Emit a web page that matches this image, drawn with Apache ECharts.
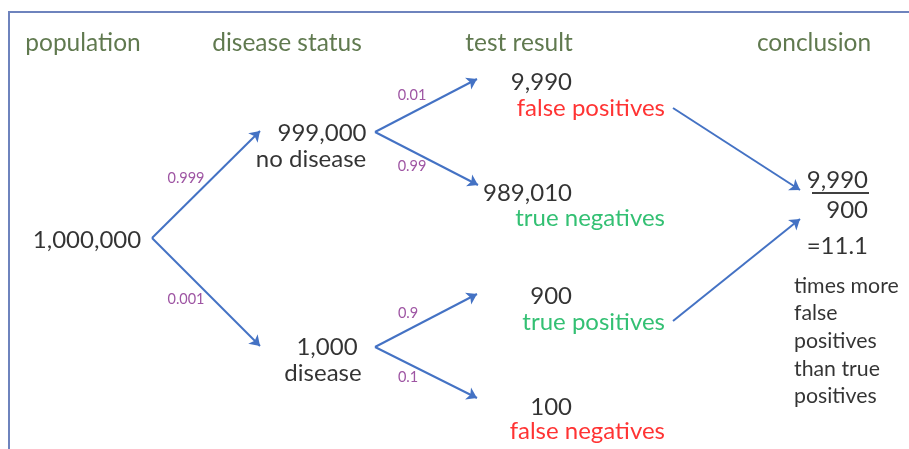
<!DOCTYPE html>
<html>
<head>
<meta charset="utf-8">
<title>Disease test tree</title>
<script src="https://cdn.jsdelivr.net/npm/echarts@6/dist/echarts.min.js"></script>
<style>
  html, body { margin: 0; padding: 0; background: #fff; }
  #chart { width: 909px; height: 449px; }
</style>
</head>
<body>
<div id="chart"></div>
<script>
// ---- data ----
const stageTitles    = ['population', 'disease status', 'test result', 'conclusion'];
const nodeCounts     = ['1,000,000', '999,000', '1,000', '9,990', '989,010', '900', '100'];
const nodeNames      = ['', 'no disease', 'disease', 'false positives', 'true negatives', 'true positives', 'false negatives'];
const nodeKinds      = ['none', 'plain', 'plain', 'bad', 'good', 'good', 'bad'];
const branchProbs    = ['0.999', '0.001', '0.01', '0.99', '0.9', '0.1'];
const ratioParts     = ['9,990', '900', '=11.1'];
const conclusionText = ['times more', 'false', 'positives', 'than true', 'positives'];

// ---- layout (pixel frame of the diagram, y grows downwards) ----
const titlePos = [[83, 43], [287, 43], [519, 43], [814, 43]];
const countPos = [[87, 240, 'center'], [322, 133, 'center'], [327, 347, 'center'],
                  [572, 82, 'right'], [572, 193, 'right'], [572, 296, 'right'], [572, 407, 'right']];
const namePos  = [null, [311, 159, 'center'], [323, 373, 'center'],
                  [665, 108, 'right'], [665, 218, 'right'], [665, 322, 'right'], [665, 431, 'right']];
const branches = [ // [from, to] in px
  [[152, 238], [260, 131]], [[152, 238], [260, 346]],
  [[375, 132], [477, 79]],  [[375, 132], [478, 185]],
  [[375, 347], [477, 294]], [[375, 347], [477, 398]]
];
const probPos  = [[186, 178], [186, 299], [412, 95], [412, 166], [408, 313], [408, 377]];
const toRatio  = [[[673, 108], [800, 190]], [[673, 321], [800, 219]]];
const ratioPos = [[868, 180], [868, 210], [868, 246]];
const fracBar  = [[812, 193], [869, 193]];
const textX = 794, textY0 = 286, textStep = 27.6;

const FONT = 'Lato';
const kindColor = { plain: '#000000', good: '#00b050', bad: '#ff0000' };

function textPoint(pos, text, style) {
  return {
    value: [pos[0], pos[1]],
    label: Object.assign({
      show: true, position: 'inside', formatter: text,
      align: pos[2] || 'center', verticalAlign: 'middle',
      fontFamily: FONT, textBorderWidth: 0, textShadowBlur: 0
    }, style)
  };
}

const texts = [];
stageTitles.forEach((t, i) => texts.push(textPoint(titlePos[i], t, { color: '#385723', fontSize: 24.5 })));
nodeCounts.forEach((c, i) => texts.push(textPoint(countPos[i], c, { color: '#000', fontSize: 24 })));
nodeNames.forEach((n, i) => {
  if (!n) return;
  texts.push(textPoint(namePos[i], n, { color: kindColor[nodeKinds[i]], fontSize: 24 }));
});
branchProbs.forEach((p, i) => texts.push(textPoint(probPos[i], p, { color: '#862a8c', fontSize: 14.5 })));
ratioParts.forEach((r, i) => texts.push(textPoint([ratioPos[i][0], ratioPos[i][1], 'right'], r, { color: '#000', fontSize: 24 })));
conclusionText.forEach((t, i) => texts.push(textPoint([textX, textY0 + i * textStep, 'left'], t, { color: '#000', fontSize: 21.3 })));

const chart = echarts.init(document.getElementById('chart'), null, { renderer: 'canvas' });

chart.setOption({
  animation: false,
  backgroundColor: '#ffffff',
  grid: { left: 0, right: 0, top: 0, bottom: 0 },
  xAxis: { type: 'value', min: 0, max: 909, show: false },
  yAxis: { type: 'value', min: 0, max: 449, inverse: true, show: false },
  graphic: [{
    type: 'rect',
    shape: { x: 9, y: 12, width: 1000, height: 1000 },
    style: { fill: 'none', stroke: '#6e83bd', lineWidth: 2 },
    silent: true
  }],
  series: [
    {
      type: 'lines',
      coordinateSystem: 'cartesian2d',
      symbol: ['none', 'arrow'],
      symbolSize: 10,
      lineStyle: { color: '#4472c4', width: 2, opacity: 1, curveness: 0 },
      data: branches.concat(toRatio).map(c => ({ coords: c })),
      silent: true
    },
    {
      type: 'lines',
      coordinateSystem: 'cartesian2d',
      symbol: 'none',
      lineStyle: { color: '#000', width: 1.5, opacity: 1 },
      data: [{ coords: fracBar }],
      silent: true
    },
    {
      type: 'scatter',
      symbolSize: 0,
      silent: true,
      data: texts
    }
  ]
});
</script>
</body>
</html>
